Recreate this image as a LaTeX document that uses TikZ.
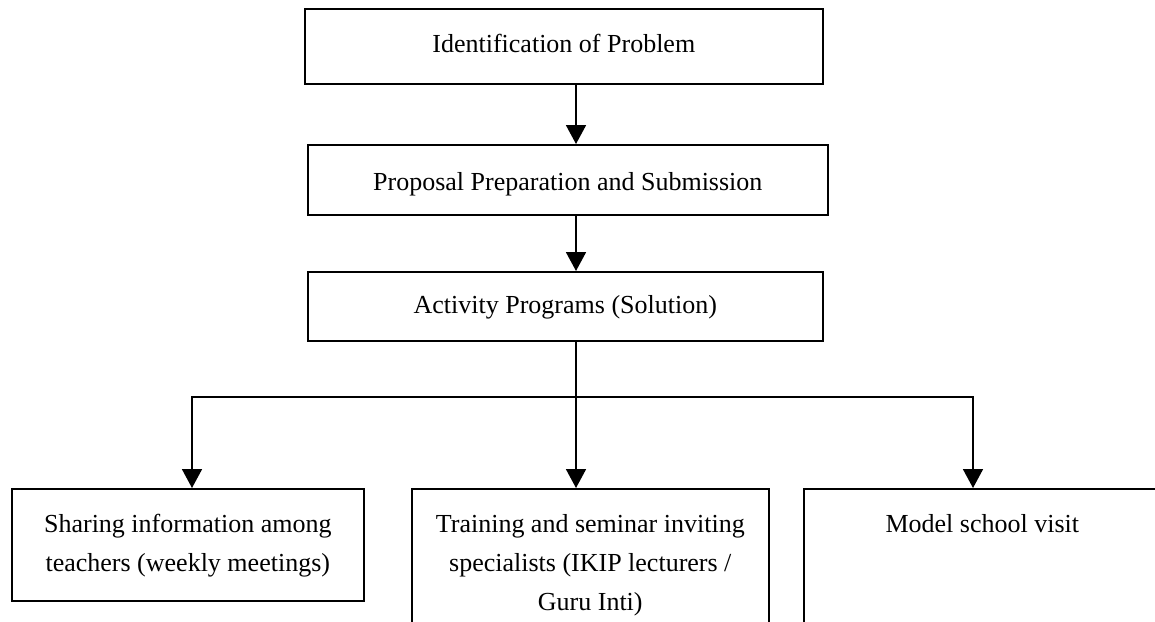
\documentclass[tikz,border=0pt]{standalone}
\usepackage{fontspec}
\setmainfont{Liberation Serif}
\usetikzlibrary{arrows.meta}
\newcommand\bxc[4]{\parbox[t][#2][t]{#1}{\centering\rule{0pt}{#3}#4}}
\tikzset{
  flowbox/.style={draw, line width=1.6pt, inner sep=0pt, anchor=north west,
    font=\fontsize{26pt}{39pt}\selectfont},
  flowline/.style={line width=1.8pt},
  flowarrow/.style={line width=1.8pt, -{Triangle[length=19pt,width=20pt]}}
}
\begin{document}
\begin{tikzpicture}[x=1pt,y=-1pt]
\clip (0,0) rectangle (1155,621);
\fill[white] (0,0) rectangle (1155,621);
\node[flowbox] (b1) at (304,8) {\bxc{518pt}{75pt}{44pt}{Identification of Problem}};
\node[flowbox] (b2) at (307,144) {\bxc{520pt}{70pt}{46pt}{Proposal Preparation and Submission}};
\node[flowbox] (b3) at (307,271) {\bxc{515pt}{69pt}{42pt}{Activity Programs (Solution)}};
\node[flowbox] (b4) at (11,488) {\bxc{352pt}{112pt}{44pt}{Sharing information among\\teachers (weekly meetings)}};
\node[flowbox] (b5) at (411,488) {\bxc{357pt}{151pt}{44pt}{Training and seminar inviting\\specialists (IKIP lecturers /\\Guru Inti)}};
\node[flowbox] (b6) at (803,488) {\bxc{357pt}{151pt}{44pt}{Model school visit}};
\coordinate (sp) at (576,0);
\coordinate (hL) at (192,397);
\coordinate (hM) at (576,397);
\coordinate (hR) at (973,397);
\draw[flowarrow] (b1.south -| sp) -- (b2.north -| sp);
\draw[flowarrow] (b2.south -| sp) -- (b3.north -| sp);
\draw[flowline] (b3.south -| sp) -- (hM);
\draw[flowline, line cap=rect] (hL) -- (hR);
\draw[flowarrow] (hL) -- (b4.north -| hL);
\draw[flowarrow] (hM) -- (b5.north -| hM);
\draw[flowarrow] (hR) -- (b6.north -| hR);
\end{tikzpicture}
\end{document}
